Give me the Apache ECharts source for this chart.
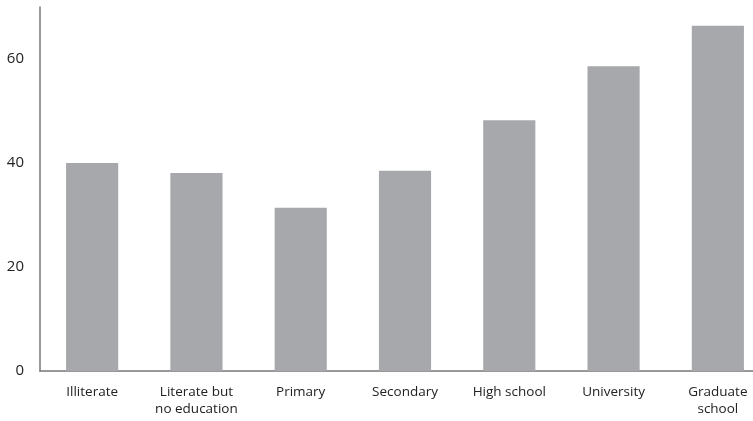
<!DOCTYPE html>
<html>
<head>
<meta charset="utf-8">
<script src="https://cdn.jsdelivr.net/npm/echarts@6/dist/echarts.min.js"></script>
<style>html,body{margin:0;padding:0;background:#fff;overflow:hidden;width:753px;height:421px;}#c{width:771px;height:421px;}</style>
</head>
<body>
<div id="c"></div>
<script>
const categories = ['Illiterate', 'Literate but\nno education', 'Primary', 'Secondary', 'High school', 'University', 'Graduate\nschool'];
const values = [40.0, 38.1, 31.4, 38.5, 48.2, 58.6, 66.4];
const yTicks = [0, 20, 40, 60];

const chart = echarts.init(document.getElementById('c'), null, {renderer: 'canvas'});
chart.setOption({
  animation: false,
  grid: {left: 40, top: 7, width: 730, bottom: 50, containLabel: false},
  xAxis: {
    type: 'category',
    data: categories,
    axisLine: {show: true, lineStyle: {color: '#777', width: 1.5}},
    axisTick: {show: false},
    axisLabel: {color: '#222', fontSize: 13.5, fontFamily: 'Open Sans', margin: 13, lineHeight: 17, interval: 0}
  },
  yAxis: {
    type: 'value',
    min: 0, max: 70, interval: 20,
    axisLine: {show: true, lineStyle: {color: '#777', width: 1.5}},
    axisTick: {show: false},
    splitLine: {show: false},
    axisLabel: {
      color: '#222', fontSize: 15, fontFamily: 'Open Sans', margin: 16,
      showMaxLabel: false,
      formatter: function (v) { return yTicks.indexOf(v) >= 0 ? String(v) : ''; }
    }
  },
  series: [{
    type: 'bar',
    data: values,
    barCategoryGap: '50%',
    itemStyle: {color: '#a7a8ab'}
  }]
});
</script>
</body>
</html>
